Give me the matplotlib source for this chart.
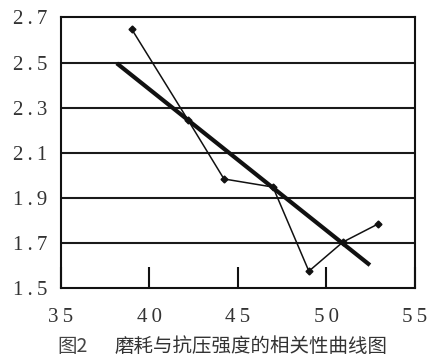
import matplotlib
matplotlib.use('Agg')
from matplotlib import pyplot as plt

# measured points (thin line with markers)
strength = [38.99, 42.18, 44.21, 46.98, 49.01, 50.93, 52.91]
wear = [2.649, 2.245, 1.984, 1.948, 1.575, 1.704, 1.784]

# fitted trend line end points
trend_x = [38.15, 52.46]
trend_y = [2.497, 1.602]

x_ticks = [35, 40, 45, 50, 55]
y_ticks = [1.5, 1.7, 1.9, 2.1, 2.3, 2.5, 2.7]
fig_no = '图2'
caption = '磨耗与抗压强度的相关性曲线图'

fig = plt.figure(figsize=(4.39, 3.57), dpi=100)
ax = fig.add_axes([0.139, 0.193, 0.806, 0.758])

for y in y_ticks[1:-1]:
    ax.axhline(y, color='#1a1a1a', lw=1.5, zorder=1)

ax.plot(trend_x, trend_y, color='#111111', lw=3.0, solid_capstyle='butt', zorder=3)
ax.plot(strength, wear, color='#111111', lw=1.1, marker='D', markersize=3.5,
        markerfacecolor='#111111', zorder=4)

ax.set_xlim(35, 55)
ax.set_ylim(1.5, 2.7)
ax.set_xticks(x_ticks)
ax.set_yticks(y_ticks)
# slightly wider letter spacing as in the scanned original (thin spaces)
ax.set_xticklabels(['\u2009'.join(str(v)) for v in x_ticks])
ax.set_yticklabels(['\u2009'.join('%.1f' % v) for v in y_ticks])

for lab in ax.get_xticklabels() + ax.get_yticklabels():
    lab.set_family(['Liberation Serif', 'DejaVu Serif'])
    lab.set_fontsize(15)
    lab.set_color('#333333')

ax.tick_params(axis='x', direction='in', length=15, width=1.5, color='#111111', pad=14)
ax.tick_params(axis='y', length=0, pad=10)
for pos in ['right', 'top', 'bottom', 'left']:
    ax.spines[pos].set_linewidth(1.5)
    ax.spines[pos].set_color('#111111')

cjk = ['Noto Sans CJK SC', 'DejaVu Sans']
fig.text(57 / 439, 0.03, fig_no, ha='left', va='center', fontsize=14,
         family=cjk, color='#444444')
fig.text(115 / 439, 0.03, caption, ha='left', va='center', fontsize=14,
         family=cjk, color='#333333')

plt.savefig('out.png', dpi=100)
